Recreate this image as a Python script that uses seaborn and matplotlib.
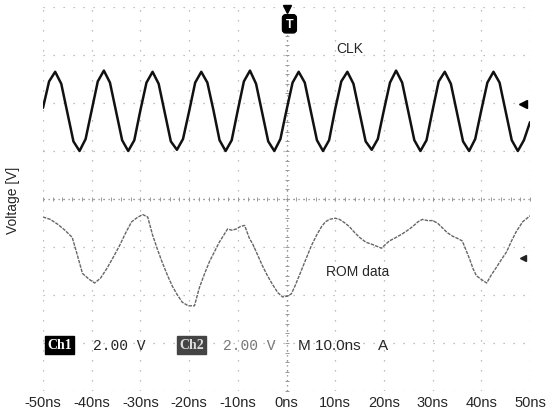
import matplotlib
matplotlib.use("Agg")
import matplotlib.pyplot as plt
import numpy as np
import seaborn as sns

# CLK trace (ch1), sampled every 1.25 ns, volts
clk_t = np.arange(-50, 50.01, 1.25)
clk_v = [3.8, 4.9, 5.3, 4.8, 3.6, 2.4, 2.0, 2.5,
         3.7, 4.9, 5.35, 4.85, 3.65, 2.45, 2.0, 2.45,
         3.7, 4.85, 5.3, 4.8, 3.6, 2.4, 2.05, 2.5,
         3.65, 4.85, 5.3, 4.85, 3.7, 2.45, 2.0, 2.45,
         3.7, 4.9, 5.35, 4.8, 3.6, 2.4, 2.0, 2.5,
         3.7, 4.85, 5.3, 4.85, 3.65, 2.45, 2.0, 2.45,
         3.75, 4.9, 5.3, 4.8, 3.6, 2.4, 2.05, 2.5,
         3.7, 4.85, 5.35, 4.85, 3.65, 2.45, 2.0, 2.45,
         3.7, 4.9, 5.3, 4.8, 3.6, 2.4, 2.0, 2.5,
         3.7, 4.85, 5.3, 4.85, 3.65, 2.45, 2.0, 2.45,
         3.2]

# ROM data trace (ch2)
rom_t = [-50, -48.5, -47, -45.5, -44, -43, -41.9, -40.5, -39.4, -38.2, -36.9,
         -35.5, -34.3, -33, -31.8, -30.5, -29.5, -28.5, -27.5, -26.5, -25.5,
         -24.4, -23.4, -22.4, -21.4, -20.2, -18.9, -17.9, -16.8, -15.8, -14.8,
         -13.8, -12.1, -11.2, -10.3, -9.5, -8.6, -7.6, -7.0, -6.0, -4.9, -3.9,
         -2.9, -1.8, -0.8, 0.2, 1.0, 1.8, 2.7, 3.9, 5.1, 6.2, 7.2, 8.0, 8.8,
         10.0, 10.9, 12.0, 12.9, 14.0, 15.0, 16.3, 17.7, 19.5, 21.1, 22.5,
         23.8, 24.9, 25.9, 27.0, 27.9, 29.0, 30.0, 31.0, 32.0, 33.0, 34.1,
         35.2, 36.1, 37.0, 37.6, 38.3, 39.0, 40.0, 41.1, 42.1, 43.1, 44.2,
         45.2, 46.2, 47.2, 48.5, 50.0]
rom_v = [-0.75, -0.85, -1.05, -1.3, -1.6, -2.3, -3.1, -3.35, -3.5, -3.3, -2.9,
         -2.4, -1.95, -1.4, -0.95, -0.75, -0.65, -0.75, -1.5, -2.1, -2.65,
         -3.2, -3.65, -4.0, -4.3, -4.45, -4.45, -3.7, -3.1, -2.6, -2.2,
         -1.8, -1.25, -1.3, -1.25, -1.15, -1.1, -1.65, -1.85, -2.3, -2.8, -3.2,
         -3.55, -3.9, -4.08, -4.05, -3.95, -3.6, -3.15, -2.55, -1.95, -1.5, -1.15, -0.95, -0.85,
         -0.8, -0.85, -1.0, -1.15, -1.4, -1.6, -1.8, -1.9, -2.05, -1.75, -1.6,
         -1.45, -1.3, -1.15, -0.95, -0.85, -0.9, -0.9, -1.0, -1.2, -1.4, -1.55,
         -1.65, -1.75, -2.2, -2.5, -2.9, -3.2, -3.35, -3.5, -3.15, -2.85, -2.5,
         -2.2, -1.75, -1.35, -0.95, -0.7]

x_ticks = [-50, -40, -30, -20, -10, 0, 10, 20, 30, 40, 50]
x_labels = ['-50ns', '-40ns', '-30ns', '-20ns', '-10ns', '0ns',
            '10ns', '20ns', '30ns', '40ns', '50ns']

sns.set_style("white")
plt.rcParams['font.family'] = ['Liberation Sans', 'DejaVu Sans']

fig = plt.figure(figsize=(5.5, 4.1), dpi=100)
ax = fig.add_axes([43 / 550, 18 / 410, 487 / 550, 384 / 410])

# graticule
ax.set_xlim(-50, 50)
ax.set_ylim(-8, 8)
ax.set_xticks(x_ticks)
ax.set_xticklabels(x_labels, fontsize=10.5)
ax.set_yticks(np.arange(-8, 8.1, 2))
ax.set_yticklabels([])
ax.tick_params(length=0, pad=3)
ax.grid(True, color='#aaaaaa', linestyle=(0, (1, 7)), linewidth=0.9)
for s in ax.spines.values():
    s.set_visible(False)
ax.axvline(0, color='#8a8a8a', linestyle=(0, (1, 3)), linewidth=0.9)
ax.axhline(0, color='#8a8a8a', linestyle=(0, (1, 3)), linewidth=0.9)
ax.plot(np.arange(-50, 50.1, 2), np.zeros(51), '|', color='#999', ms=3, mew=0.7)
ax.plot(np.zeros(41), np.arange(-8, 8.1, 0.4), '_', color='#999', ms=3, mew=0.7)

# traces
sns.lineplot(x=clk_t, y=clk_v, ax=ax, color='#111111', linewidth=1.8)
sns.lineplot(x=rom_t, y=rom_v, ax=ax, color='#666666', linewidth=1.0,
             linestyle=(0, (2.5, 0.8)))

# labels on screen
ax.text(12.9, 6.3, 'CLK', fontsize=10, ha='center', va='center')
ax.text(14.6, -3.0, 'ROM data', fontsize=10, ha='center', va='center')
ax.text(-46.6, -6.08, 'Ch1', fontsize=10, ha='center', va='center', color='white',
        family='Liberation Serif', weight='bold',
        bbox=dict(boxstyle='square,pad=0.15', fc='black', ec='black'))
ax.text(-39.8, -6.08, '2.00 V', fontsize=10.5, ha='left', va='center',
        family='Liberation Mono')
ax.text(-19.5, -6.08, 'Ch2', fontsize=10, ha='center', va='center', color='#dddddd',
        family='Liberation Serif', weight='bold',
        bbox=dict(boxstyle='square,pad=0.15', fc='#444444', ec='#444444'))
ax.text(-13.1, -6.08, '2.00 V', fontsize=10.5, ha='left', va='center',
        family='Liberation Mono', color='#777777')
ax.text(2.3, -6.08, 'M 10.0ns', fontsize=11, ha='left', va='center')
ax.text(18.7, -6.08, 'A', fontsize=11, ha='left', va='center')

# channel markers and trigger
ax.plot([48.5], [3.96], marker='<', color='black', ms=6)
ax.plot([48.5], [-2.46], marker='<', color='#222', ms=5)
ax.plot([0.2], [7.9], marker='v', color='black', ms=6, clip_on=False)
ax.text(0.6, 7.3, 'T', fontsize=9, ha='center', va='center', color='white', weight='bold',
        bbox=dict(boxstyle='round,pad=0.25', fc='black', ec='black'))

fig.text(13 / 550, 0.512, 'Voltage [V]', rotation=90, ha='center', va='center', fontsize=10)

fig.savefig('out.png', dpi=100)
